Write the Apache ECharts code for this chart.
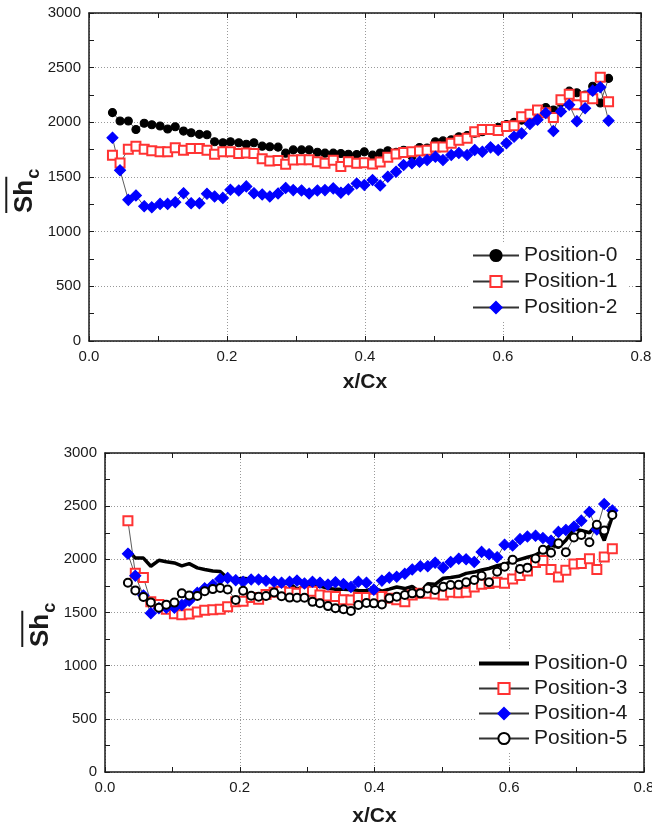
<!DOCTYPE html>
<html><head><meta charset="utf-8">
<script src="https://cdn.jsdelivr.net/npm/echarts@6/dist/echarts.min.js"></script>
<style>html,body{margin:0;padding:0;background:#fff}#c{width:652px;height:830px}</style>
</head><body><div id="c"></div>
<script>
// x/Cx positions of the measurement points
const xs = [0.034,0.045,0.057,0.068,0.080,0.091,0.103,0.114,0.125,0.137,0.148,0.160,0.171,0.182,0.194,0.205,0.217,0.228,0.239,0.251,0.262,0.274,0.285,0.296,0.308,0.319,0.331,0.342,0.354,0.365,0.376,0.388,0.399,0.411,0.422,0.433,0.445,0.456,0.468,0.479,0.490,0.502,0.513,0.525,0.536,0.548,0.559,0.570,0.582,0.593,0.605,0.616,0.627,0.639,0.650,0.662,0.673,0.684,0.696,0.707,0.719,0.730,0.741,0.753];
// Position-0 (top: filled circles, bottom: thick line)
const pos0 = [2089,2012,2012,1935,1991,1978,1966,1939,1960,1920,1905,1890,1886,1822,1813,1822,1813,1800,1813,1782,1776,1773,1718,1748,1748,1748,1727,1718,1718,1715,1708,1705,1730,1700,1720,1740,1725,1745,1690,1770,1765,1822,1830,1840,1868,1880,1900,1914,1940,1955,1980,2000,2020,2040,2080,2135,2112,2180,2285,2271,2250,2330,2177,2402];
// Position-1 (open red squares)
const pos1 = [1699,1629,1754,1782,1754,1739,1730,1730,1767,1745,1761,1761,1745,1708,1730,1730,1714,1720,1714,1668,1647,1650,1616,1655,1658,1658,1640,1625,1653,1595,1640,1625,1630,1620,1638,1680,1710,1725,1730,1738,1745,1775,1775,1808,1835,1855,1915,1935,1935,1925,1963,1968,2051,2075,2112,2088,2045,2207,2256,2160,2235,2215,2412,2189];
// Position-2 (blue diamonds)
const pos2 = [1859,1561,1291,1331,1233,1223,1254,1254,1269,1352,1260,1260,1346,1322,1309,1383,1377,1414,1352,1340,1322,1349,1400,1380,1377,1349,1377,1380,1396,1356,1387,1440,1426,1472,1423,1503,1548,1609,1625,1640,1655,1686,1655,1701,1720,1701,1747,1731,1771,1747,1808,1868,1899,1984,2024,2085,1920,2100,2160,2010,2128,2290,2320,2015];
// Position-3 (open red squares, bottom)
const pos3 = [2363,1870,1830,1600,1575,1530,1488,1480,1485,1505,1520,1525,1530,1555,1600,1605,1640,1625,1670,1690,1700,1690,1680,1695,1700,1665,1655,1650,1620,1618,1640,1640,1635,1650,1635,1620,1602,1665,1680,1680,1675,1665,1690,1685,1690,1740,1765,1773,1785,1775,1815,1848,1890,1970,1990,1904,1835,1898,1955,1960,2006,1904,2022,2100];
// Position-4 (blue diamonds, bottom)
const pos4 = [2053,1845,1660,1494,1540,1545,1545,1571,1610,1685,1727,1759,1815,1825,1804,1789,1810,1810,1798,1789,1780,1789,1800,1773,1789,1780,1763,1785,1767,1740,1790,1780,1715,1800,1828,1836,1864,1905,1935,1935,1968,1922,1975,2006,2000,1975,2070,2048,2020,2138,2130,2190,2214,2222,2200,2175,2258,2276,2307,2364,2445,2280,2520,2460];
// Position-5 (open circles, bottom)
const pos5 = [1779,1708,1646,1595,1545,1574,1593,1680,1660,1655,1700,1720,1730,1717,1618,1705,1657,1649,1655,1688,1652,1640,1638,1638,1600,1587,1560,1540,1530,1515,1571,1590,1586,1575,1633,1649,1665,1680,1680,1725,1712,1743,1759,1760,1785,1805,1845,1785,1884,1930,1995,1910,1922,2008,2089,2062,2152,2066,2205,2230,2160,2325,2270,2417];

const xMin = 0, xMax = 0.8, xStep = 0.2;
const yMin = 0, yMax = 3000, yStep = 500;
const xTitle = 'x/Cx';

const FONT = '"Liberation Sans", Arial, sans-serif';
const INK = '#1a1a1a';
const pairs = ys => xs.map((x, i) => [x, ys[i]]);

function measure(t, f) { const c = document.createElement('canvas').getContext('2d'); c.font = f; return c.measureText(t).width; }

function xAx(grid, top, gap) {
  return {
    type: 'value', gridIndex: grid, min: xMin, max: xMax, interval: xStep,
    position: top ? 'top' : 'bottom',
    name: top ? '' : xTitle, nameLocation: 'middle', nameGap: gap, nameMoveOverlap: false,
    nameTextStyle: { fontFamily: FONT, fontSize: 21, fontWeight: 'bold', color: INK },
    axisLine: { show: true, onZero: false, lineStyle: { color: INK, width: 1.5 } },
    axisTick: { show: true, inside: true, length: 5, lineStyle: { color: INK, width: 1 } },
    minorTick: { show: true, splitNumber: 2, length: 5, lineStyle: { color: INK, width: 1 } },
    axisLabel: { show: !top, margin: 8, fontFamily: FONT, fontSize: 15, color: INK, formatter: v => v.toFixed(1), hideOverlap: false, showMinLabel: true, showMaxLabel: true },
    splitLine: { show: !top, lineStyle: { color: '#999', width: 1, type: [1, 2] } },
    minorSplitLine: { show: false }
  };
}
function yAx(grid, right) {
  return {
    type: 'value', gridIndex: grid, min: yMin, max: yMax, interval: yStep,
    position: right ? 'right' : 'left',
    axisLine: { show: true, onZero: false, lineStyle: { color: INK, width: 1.5 } },
    axisTick: { show: true, inside: true, length: 5, lineStyle: { color: INK, width: 1 } },
    minorTick: { show: true, splitNumber: 2, length: 5, lineStyle: { color: INK, width: 1 } },
    axisLabel: { show: !right, margin: 8, fontFamily: FONT, fontSize: 15, color: INK, formatter: v => String(v), hideOverlap: false, showMinLabel: true, showMaxLabel: true },
    splitLine: { show: !right, lineStyle: { color: '#999', width: 1, type: [1, 2] } }
  };
}

function yTitle(gx, gy) {
  const fs = 26, fsub = 18;
  const w = measure('Sh', `bold ${fs}px ${FONT}`);
  return {
    type: 'group', x: gx, y: gy, rotation: Math.PI / 2, silent: true,
    children: [
      { type: 'text', x: 0, y: 0, style: { text: 'Sh', font: `bold ${fs}px ${FONT}`, fill: INK, align: 'left', verticalAlign: 'middle' } },
      { type: 'text', x: w + 1, y: fs * 0.34, style: { text: 'c', font: `bold ${fsub}px ${FONT}`, fill: INK, align: 'left', verticalAlign: 'middle' } },
      { type: 'line', shape: { x1: 0, y1: -fs * 0.72, x2: w + 3, y2: -fs * 0.72 }, style: { stroke: INK, lineWidth: 2 } }
    ]
  };
}

const thinLine = { color: '#333', width: 0.8 };
function markSeries(name, data, xi, yi, symbol, size, color) {
  return {
    type: 'line', name, data: pairs(data), xAxisIndex: xi, yAxisIndex: yi,
    symbol, symbolSize: size, showSymbol: true, showAllSymbol: true,
    lineStyle: thinLine, itemStyle: { color, borderColor: color, borderWidth: 1.1 },
    emphasis: { disabled: true }, animation: false, clip: false
  };
}

const legendText = { fontFamily: FONT, fontSize: 21, color: INK };
const thickIcon = 'path://M0,0h0.01v0.01z M0,5h50v4h-50z M50,14h-0.01v-0.01z';

const chart = echarts.init(document.getElementById('c'), null, { renderer: 'canvas' });
chart.setOption({
  animation: false,
  backgroundColor: '#fff',
  grid: [
    { left: 89, top: 13, right: 11, bottom: 489, outerBoundsMode: 'none', containLabel: false },
    { left: 105, top: 453, right: 8, bottom: 58, outerBoundsMode: 'none', containLabel: false }
  ],
  xAxis: [xAx(0, false, 31), xAx(0, true, 0), xAx(1, false, 34), xAx(1, true, 0)],
  yAxis: [yAx(0, false), yAx(0, true), yAx(1, false), yAx(1, true)],
  legend: [
    { orient: 'vertical', left: 470, top: 243, itemWidth: 46, itemHeight: 14, itemGap: 5,
      padding: [2, 10, 2, 2], backgroundColor: '#fff', textStyle: legendText, selectedMode: false,
      data: ['Position-0', 'Position-1', 'Position-2'] },
    { orient: 'vertical', left: 476, top: 651, itemWidth: 50, itemHeight: 14, itemGap: 4,
      padding: [2, 10, 2, 2], backgroundColor: '#fff', textStyle: legendText, selectedMode: false,
      data: [{ name: 'Position-0', icon: thickIcon, itemStyle: { color: '#000', borderWidth: 0, borderColor: 'transparent' } }, 'Position-3', 'Position-4', 'Position-5'] }
  ],
  series: [
    markSeries('Position-0', pos0, 0, 0, 'circle', 8, '#000'),
    markSeries('Position-1', pos1, 0, 0, 'emptyRect', 9, '#ff3333'),
    markSeries('Position-2', pos2, 0, 0, 'diamond', 11, '#0000ff'),
    { type: 'line', name: 'Position-0', data: pairs(pos0), xAxisIndex: 2, yAxisIndex: 2, symbol: 'none', showSymbol: false,
      lineStyle: { color: '#000', width: 3.5 }, itemStyle: { color: '#000' }, emphasis: { disabled: true }, animation: false },
    markSeries('Position-3', pos3, 2, 2, 'emptyRect', 9, '#ff3333'),
    markSeries('Position-4', pos4, 2, 2, 'diamond', 11, '#0000ff'),
    markSeries('Position-5', pos5, 2, 2, 'emptyCircle', 8, '#000')
  ],
  graphic: [yTitle(25, 213), yTitle(41, 647)]
});
</script>
</body></html>
